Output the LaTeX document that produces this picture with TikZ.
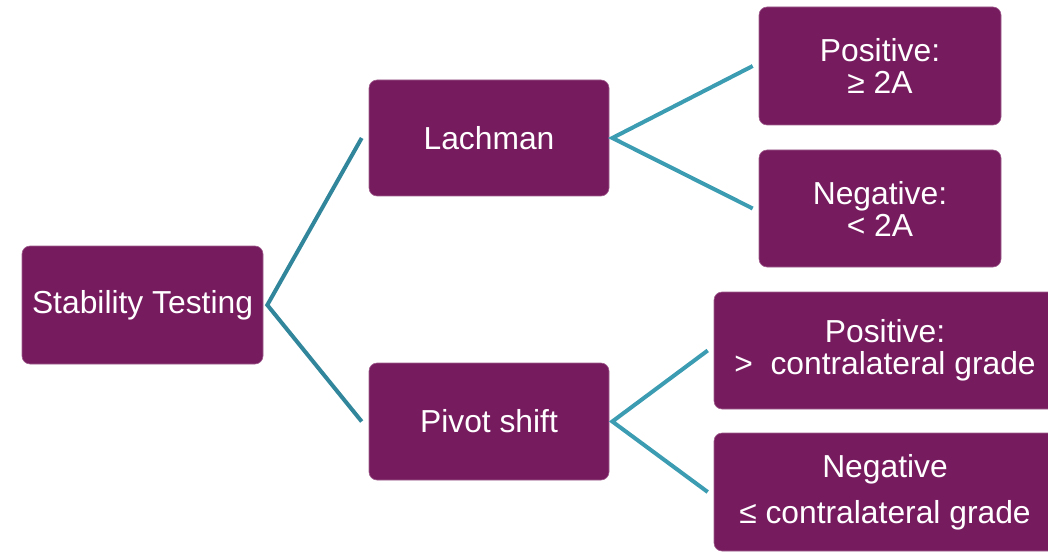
\documentclass[tikz,border=0pt]{standalone}
\usepackage{fontspec}
\setmainfont{Liberation Sans}
\usepackage{tikz}
\usetikzlibrary{calc}
\definecolor{plum}{HTML}{771B5F}
\definecolor{tealA}{HTML}{31869C}
\definecolor{tealB}{HTML}{3C9CB2}
\tikzset{testbox/.style={fill=plum,draw=plum!70!white,line width=0.6pt,rounded corners=8pt,
    inner sep=0pt,align=center,text=white,font=\fontsize{31.8}{32}\selectfont},
  branch/.style={line width=4pt}}

\begin{document}
\begin{tikzpicture}[x=1pt,y=1pt,yscale=-1,xscale=1]
\useasboundingbox (0,0) rectangle (1048,553);

%Boxes
\node[testbox,minimum width=241pt,minimum height=118pt] (stab) at (142.5,305) {Stability Testing};
\node[testbox,minimum width=240pt,minimum height=116pt] (lach) at (489,138) {Lachman};
\node[testbox,minimum width=240pt,minimum height=117pt] (pivot) at (489,421.5) {Pivot shift};
\node[testbox,minimum width=242pt,minimum height=118pt] (lpos) at (880,66) {Positive:\\≥ 2A};
\node[testbox,minimum width=242pt,minimum height=117pt] (lneg) at (880,208.5) {Negative:\\< 2A};
\node[testbox,minimum width=342pt,minimum height=117pt] (ppos) at (885,350.5) {Positive:\\>\ \ contralateral grade};
\node[testbox,minimum width=342pt,minimum height=118pt] (pneg) at (885,492) {Negative\\[14pt]≤ contralateral grade};

%Connectors
\draw[branch,tealA] ([xshift=-7pt]lach.west) -- ([xshift=4pt]stab.east) -- ([xshift=-7pt]pivot.west);
\draw[branch,tealB] ([xshift=-6pt]lpos.west) -- ([xshift=3pt]lach.east) -- ([xshift=-6pt]lneg.west);
\draw[branch,tealB] ([xshift=-6pt]ppos.west) -- ([xshift=3pt]pivot.east) -- ([xshift=-6pt]pneg.west);

\end{tikzpicture}
\end{document}
